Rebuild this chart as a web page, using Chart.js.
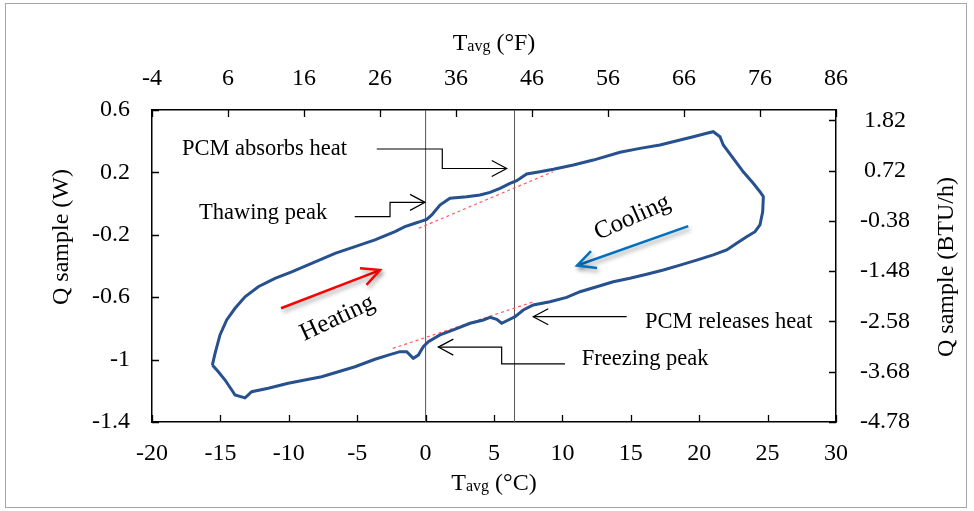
<!DOCTYPE html>
<html>
<head>
<meta charset="utf-8">
<style>
  html, body { margin: 0; padding: 0; background: #fff; }
  canvas { display: block; }
</style>
</head>
<body>
<canvas id="grafica" width="974" height="511"></canvas>
<script src="https://cdn.jsdelivr.net/npm/chart.js"></script>
<script>
// loop: Tavg (°C) vs Q sample (W), heating branch first, then cooling
const loopT = [-15.59, -15.39, -15.03, -14.54, -13.93, -13.2, -12.23, -11.01, -9.79, -8.33, -6.62, -5.16, -3.7, -2.24, -1.51, -0.77, -0.41, 0.08, 0.45, 1.05, 1.78, 3.0, 3.98, 4.71, 5.44, 6.17, 6.66, 7.39, 8.36, 9.34, 10.8, 12.26, 14.21, 15.67, 17.13, 18.6, 19.57, 20.55, 21.03, 21.52, 21.76, 22.49, 23.22, 23.95, 24.44, 24.69, 24.64, 24.44, 24.08, 23.47, 22.74, 22.01, 21.03, 19.82, 18.6, 17.38, 16.16, 14.94, 13.72, 12.51, 11.29, 10.31, 9.09, 7.87, 7.14, 6.54, 6.05, 5.56, 5.2, 4.71, 4.22, 3.25, 2.03, 1.05, 0.2, -0.17, -0.53, -0.9, -1.38, -1.87, -2.73, -3.7, -5.16, -6.38, -7.6, -8.82, -10.04, -11.5, -12.71, -13.2, -13.93, -14.17, -14.66, -15.15, -15.59];
const loopQ = [-1.035, -0.96, -0.842, -0.746, -0.671, -0.597, -0.533, -0.479, -0.437, -0.383, -0.319, -0.276, -0.233, -0.18, -0.148, -0.126, -0.116, -0.101, -0.073, -0.009, 0.034, 0.044, 0.055, 0.072, 0.098, 0.13, 0.147, 0.19, 0.204, 0.22, 0.247, 0.279, 0.329, 0.354, 0.376, 0.408, 0.429, 0.451, 0.461, 0.429, 0.376, 0.29, 0.204, 0.13, 0.076, 0.044, -0.052, -0.137, -0.18, -0.212, -0.254, -0.297, -0.329, -0.362, -0.394, -0.426, -0.453, -0.479, -0.501, -0.533, -0.565, -0.601, -0.629, -0.65, -0.682, -0.725, -0.746, -0.767, -0.742, -0.729, -0.746, -0.767, -0.81, -0.842, -0.885, -0.917, -0.971, -0.992, -0.949, -0.949, -0.971, -0.998, -1.046, -1.078, -1.11, -1.131, -1.152, -1.184, -1.206, -1.245, -1.227, -1.195, -1.131, -1.078, -1.035];

// dashed baselines under the peaks
const thawBaseT = [-0.5, 9.3];
const thawBaseQ = [-0.158, 0.204];
const freezeBaseT = [-2.4, 7.9];
const freezeBaseQ = [-0.928, -0.629];

// phase change temperatures (vertical markers)
const markerT = [0, 6.5];

// axis ticks
const xTicksC = [-20, -15, -10, -5, 0, 5, 10, 15, 20, 25, 30];
const yTicksW = [-1.4, -1, -0.6, -0.2, 0.2, 0.6];
const xTicksF = [-4, 6, 16, 26, 36, 46, 56, 66, 76, 86];
const yTicksBtu = [-4.78, -3.68, -2.58, -1.48, -0.38, 0.72, 1.82];
const wToBtu = 3.412;

const serif = '"Liberation Serif", "Times New Roman", serif';

// annotations, placed in data units
const notes = [
  { text: 'PCM absorbs heat', t: -17.81, q: 0.348, pathT: [-3.57, 1.22, 1.22, 5.93], pathQ: [0.35, 0.35, 0.225, 0.225] },
  { text: 'Thawing peak', t: -16.56, q: -0.058, pathT: [-5.18, -2.6, -2.6, -0.04], pathQ: [-0.083, -0.083, 0.008, 0.008] },
  { text: 'PCM releases heat', t: 16.04, q: -0.757, pathT: [14.7, 7.87], pathQ: [-0.725, -0.725] },
  { text: 'Freezing peak', t: 11.41, q: -0.998, pathT: [10.19, 5.56, 5.56, 0.93], pathQ: [-1.028, -1.028, -0.92, -0.92] }
];
const bigArrows = [
  { text: 'Heating', color: '#ff0000', fromT: -10.57, fromQ: -0.671, toT: -3.33, toQ: -0.426, labT: -6.45, labQ: -0.735, angle: -25 },
  { text: 'Cooling', color: '#0070c0', fromT: 19.2, fromQ: -0.144, toT: 11.07, toQ: -0.397, labT: 15.11, labQ: -0.09, angle: -24 }
];

function head(ctx, x0, y0, x1, y1, len, half) {
  const a = Math.atan2(y1 - y0, x1 - x0);
  const c = Math.cos(a), s = Math.sin(a);
  ctx.beginPath();
  ctx.moveTo(x1 - len * c + half * s, y1 - len * s - half * c);
  ctx.lineTo(x1, y1);
  ctx.lineTo(x1 - len * c - half * s, y1 - len * s + half * c);
  ctx.stroke();
}

function tavg(ctx, unit, cx, baseY) {
  const big = '24px ' + serif, small = '16px ' + serif;
  ctx.font = big;
  const wT = ctx.measureText('T').width;
  const wU = ctx.measureText(' (' + unit + ')').width;
  ctx.font = small;
  const wA = ctx.measureText('avg').width;
  let x = cx - (wT + wA + wU) / 2;
  ctx.textAlign = 'left';
  ctx.textBaseline = 'alphabetic';
  ctx.font = big; ctx.fillText('T', x, baseY); x += wT;
  ctx.font = small; ctx.fillText('avg', x, baseY + 1); x += wA;
  ctx.font = big; ctx.fillText(' (' + unit + ')', x, baseY);
}

const decor = {
  id: 'decor',
  beforeDraw(chart) {
    const ctx = chart.ctx;
    ctx.save();
    ctx.fillStyle = '#fff';
    ctx.fillRect(0, 0, chart.width, chart.height);
    ctx.strokeStyle = '#a6a6a6';
    ctx.lineWidth = 1;
    ctx.strokeRect(5.5, 3.5, 961, 504);
    ctx.restore();
  },
  afterDraw(chart) {
    const { ctx, chartArea: a, scales } = chart;
    const px = v => scales.x.getPixelForValue(v);
    const py = v => scales.y.getPixelForValue(v);
    ctx.save();

    // inward tick marks on all four sides
    ctx.strokeStyle = '#000';
    ctx.lineWidth = 1.3;
    ctx.beginPath();
    xTicksC.forEach(v => { const x = Math.round(px(v)) + 0.5; ctx.moveTo(x, a.bottom); ctx.lineTo(x, a.bottom - 7); });
    xTicksF.forEach(v => { const x = Math.round(scales.x2.getPixelForValue(v)) + 0.5; ctx.moveTo(x, a.top); ctx.lineTo(x, a.top + 7); });
    yTicksW.forEach(v => { const y = Math.round(py(v)) + 0.5; ctx.moveTo(a.left, y); ctx.lineTo(a.left + 7, y); });
    yTicksBtu.forEach(v => { const y = Math.round(scales.y2.getPixelForValue(v)) + 0.5; ctx.moveTo(a.right, y); ctx.lineTo(a.right - 7, y); });
    ctx.stroke();

    // axis titles
    ctx.fillStyle = '#000';
    const cx = (a.left + a.right) / 2;
    tavg(ctx, '°F', cx, 50);
    tavg(ctx, '°C', cx, 490);
    ctx.font = '24px ' + serif;
    ctx.textAlign = 'center';
    ctx.textBaseline = 'alphabetic';
    ctx.save(); ctx.translate(68, 237); ctx.rotate(-Math.PI / 2); ctx.fillText('Q sample (W)', 0, 0); ctx.restore();
    ctx.save(); ctx.translate(953, 267); ctx.rotate(-Math.PI / 2); ctx.fillText('Q sample (BTU/h)', 0, 0); ctx.restore();

    // callouts
    ctx.font = '22.5px ' + serif;
    ctx.textAlign = 'left';
    ctx.textBaseline = 'middle';
    ctx.lineWidth = 1.2;
    notes.forEach(n => {
      ctx.fillText(n.text, px(n.t), py(n.q));
      const xs = n.pathT.map(px), ys = n.pathQ.map(py);
      ctx.beginPath();
      xs.forEach((x, i) => i ? ctx.lineTo(x, ys[i]) : ctx.moveTo(x, ys[i]));
      ctx.stroke();
      const k = xs.length - 1;
      head(ctx, xs[k - 1], ys[k - 1], xs[k], ys[k], 15, 8);
    });

    // heating / cooling arrows
    bigArrows.forEach(b => {
      ctx.save();
      ctx.shadowColor = 'rgba(0,0,0,0.35)';
      ctx.shadowBlur = 4;
      ctx.shadowOffsetX = 2;
      ctx.shadowOffsetY = 3;
      ctx.strokeStyle = b.color;
      ctx.lineWidth = 2.5;
      const x0 = px(b.fromT), y0 = py(b.fromQ), x1 = px(b.toT), y1 = py(b.toQ);
      ctx.beginPath(); ctx.moveTo(x0, y0); ctx.lineTo(x1, y1); ctx.stroke();
      head(ctx, x0, y0, x1, y1, 18, 9);
      ctx.restore();
      ctx.save();
      ctx.translate(px(b.labT), py(b.labQ));
      ctx.rotate(b.angle * Math.PI / 180);
      ctx.font = '25px ' + serif;
      ctx.textAlign = 'center';
      ctx.textBaseline = 'middle';
      ctx.fillText(b.text, 0, 0);
      ctx.restore();
    });
    ctx.restore();
  }
};

const toXY = (ts, qs) => ts.map((t, i) => ({ x: t, y: qs[i] }));
const tickFont = { family: serif, size: 24 };

function axis(position, min, max, ticks, fmt, pad, size) {
  const horiz = position === 'top' || position === 'bottom';
  return {
    type: 'linear',
    position: position,
    min: min,
    max: max,
    grid: { display: false, drawTicks: false },
    border: { display: true, color: '#000', width: 1.5 },
    ticks: { color: '#000', font: tickFont, padding: pad, autoSkip: false, maxRotation: 0, callback: fmt,
             crossAlign: position === 'right' ? 'center' : 'near' },
    afterBuildTicks: s => { s.ticks = ticks.map(v => ({ value: v })); },
    afterFit: s => { if (horiz) s.height = size; else s.width = size; }
  };
}

new Chart(document.getElementById('grafica'), {
  type: 'scatter',
  data: {
    datasets: [
      { data: toXY(loopT, loopQ), showLine: true, borderColor: '#26508e', borderWidth: 3, pointRadius: 0, tension: 0 },
      { data: toXY(thawBaseT, thawBaseQ), showLine: true, borderColor: '#ff5c5c', borderWidth: 1.2, borderDash: [3, 3], pointRadius: 0 },
      { data: toXY(freezeBaseT, freezeBaseQ), showLine: true, borderColor: '#ff5c5c', borderWidth: 1.2, borderDash: [3, 3], pointRadius: 0 },
      { data: toXY([markerT[0], markerT[0]], [yTicksW[0], yTicksW[yTicksW.length - 1]]), showLine: true, borderColor: '#555', borderWidth: 1, pointRadius: 0 },
      { data: toXY([markerT[1], markerT[1]], [yTicksW[0], yTicksW[yTicksW.length - 1]]), showLine: true, borderColor: '#555', borderWidth: 1, pointRadius: 0 }
    ]
  },
  options: {
    responsive: false,
    animation: false,
    layout: { padding: 0 },
    plugins: { legend: { display: false }, tooltip: { enabled: false } },
    scales: {
      x: axis('bottom', -20, 30, xTicksC, v => String(v), 17, 89),
      x2: axis('top', -4, 86, xTicksF, v => String(v), 17, 110),
      y: axis('left', -1.4, 0.6, yTicksW, v => String(v), 22, 152),
      y2: axis('right', yTicksBtu[0], 0.6 * wToBtu, yTicksBtu, v => v.toFixed(2), 24, 138)
    }
  },
  plugins: [decor]
});
</script>
</body>
</html>
